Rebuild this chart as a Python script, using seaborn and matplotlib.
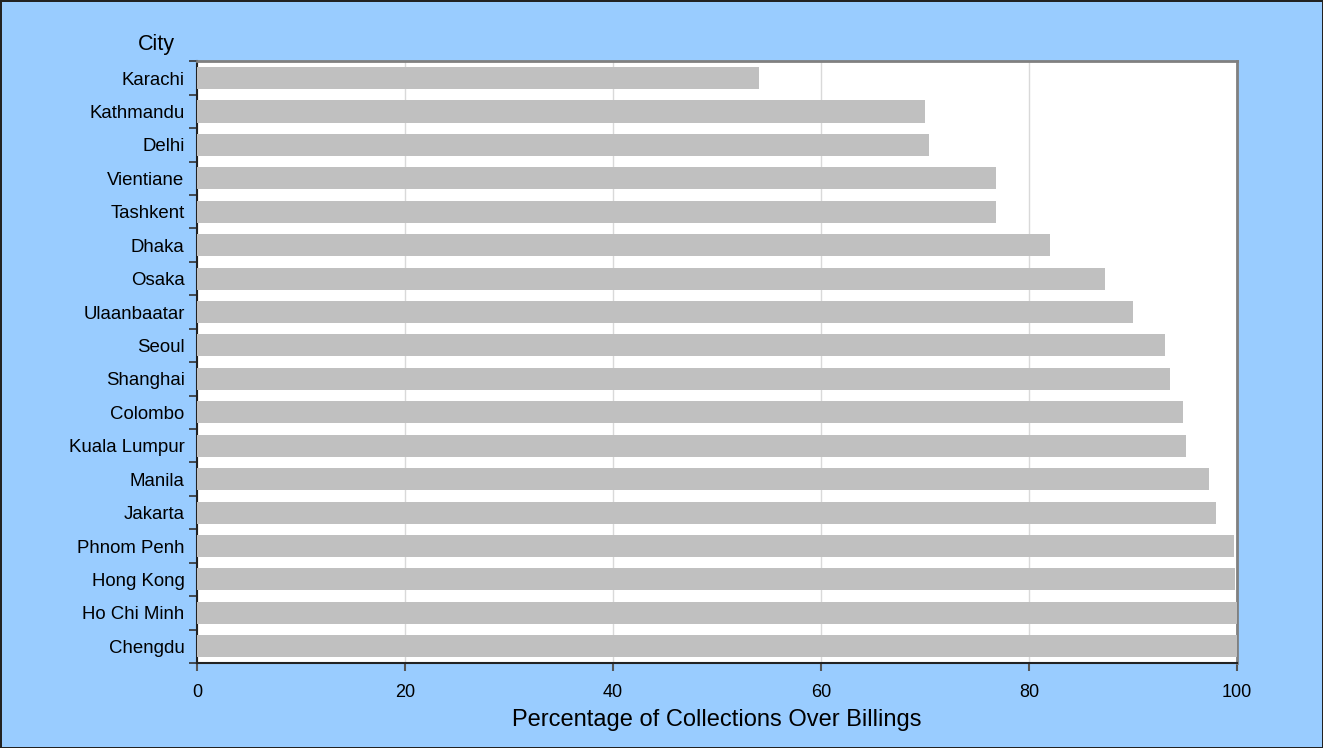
#!/usr/bin/env python
import matplotlib
matplotlib.use('Agg')
import matplotlib.pyplot as plt
import numpy as np
import pandas as pd
import seaborn as sns

cities = ['Karachi', 'Kathmandu', 'Delhi', 'Vientiane', 'Tashkent', 'Dhaka', 'Osaka',
          'Ulaanbaatar', 'Seoul', 'Shanghai', 'Colombo', 'Kuala Lumpur', 'Manila',
          'Jakarta', 'Phnom Penh', 'Hong Kong', 'Ho Chi Minh', 'Chengdu']
collections = [54.0, 70.0, 70.4, 76.8, 76.8, 82.0, 87.3, 90.0, 93.1, 93.6, 94.8,
               95.1, 97.3, 98.0, 99.7, 99.8, 100.0, 100.0]

df = pd.DataFrame({'City': cities, 'Pct': collections})

sns.set_style('white')
plt.rcParams['font.family'] = ['Liberation Sans', 'DejaVu Sans']
plt.rcParams['text.color'] = 'black'
plt.rcParams['axes.labelcolor'] = 'black'

fig = plt.figure(figsize=(13.23, 7.48), dpi=100, facecolor='#99CCFF',
                 edgecolor='#222222', linewidth=2)
ax = fig.add_axes([0.149, 0.1136, 0.786, 0.8044])
ax.set_facecolor('white')

sns.barplot(data=df, y='City', x='Pct', color='#C0C0C0', saturation=1,
            width=0.66, linewidth=0, ax=ax, zorder=3)

ax.set_xlim(0, 100)
ax.set_ylim(len(cities) - 0.5, -0.5)
ax.set_xticks(np.arange(0, 101, 20))
ax.xaxis.grid(True, color='#D9D9D9', linewidth=1, zorder=0)
ax.set_axisbelow(True)

# excel-style category ticks at the boundaries
ax.set_yticks(np.arange(len(cities)))
ax.set_yticklabels(cities)
ax.set_yticks(np.arange(-0.5, len(cities), 1), minor=True)
ax.tick_params(axis='y', which='major', left=True, length=0, pad=9, labelsize=13.4,
               labelcolor='black')
ax.tick_params(axis='y', which='minor', left=True, length=6, width=1.2, color='#333333',
               direction='out')
ax.tick_params(axis='x', bottom=True, length=6, width=1.5, color='#555555', direction='out',
               labelsize=13, labelcolor='black', pad=9)

for side in ['top', 'right']:
    ax.spines[side].set_color('#808080')
    ax.spines[side].set_linewidth(2)
for side in ['left', 'bottom']:
    ax.spines[side].set_color('#222222')
    ax.spines[side].set_linewidth(1.5)

ax.set_ylabel('')
ax.set_xlabel('Percentage of Collections Over Billings', fontsize=17, labelpad=6)
fig.text(0.1325, 0.941, 'City', ha='right', va='center', fontsize=15.5)

fig.savefig('out.png', dpi=100, facecolor=fig.get_facecolor(), edgecolor=fig.get_edgecolor())
